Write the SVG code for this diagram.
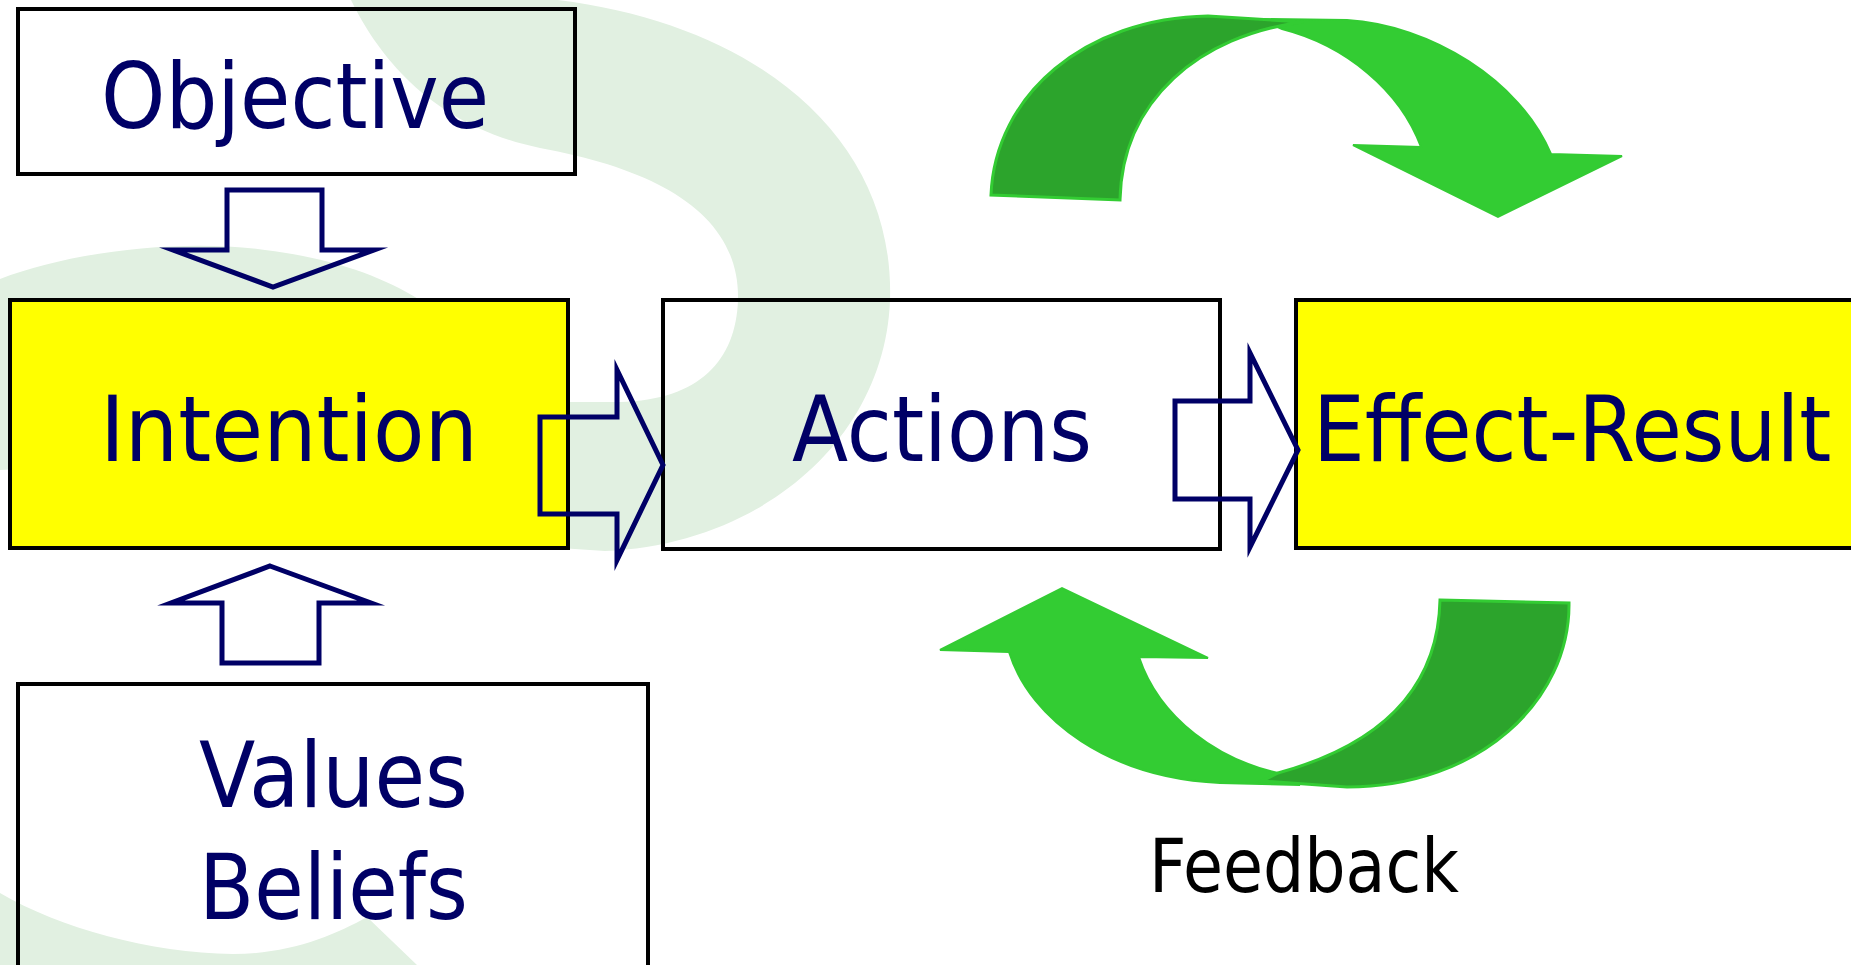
<svg xmlns="http://www.w3.org/2000/svg" width="1851" height="965" viewBox="0 0 1851 965">
<style>
.bg{fill:#E1F0E1;stroke:none}
.box{fill:none;stroke:#000;stroke-width:4}
.yel{fill:#FFFF00;stroke:#000;stroke-width:4}
.lbl{font-family:"DejaVu Sans","Liberation Sans",sans-serif;font-size:91px;fill:#000066}
.fb{font-family:"DejaVu Sans","Liberation Sans",sans-serif;font-size:75px;fill:#000}
.blk{fill:none;stroke:#000066;stroke-width:5;stroke-linejoin:miter;stroke-miterlimit:12}
.gl{fill:#33CC33;stroke:#33CC33;stroke-width:2}
.gd{fill:#2CA42C;stroke:#33CC33;stroke-width:3}
</style>
<rect width="1851" height="965" fill="#fff"/>
<g id="background">
<path class="bg" d="M351,0 C378,55 430,125 540,148 C660,170 740,215 738,300 C736,360 700,400 620,402 L520,402 L520,540 L560,548 L605,551 C760,545 885,440 890,300 C895,140 760,25 558,0 Z"/>
<path class="bg" d="M0,279 C70,252 180,238 265,250 C330,258 380,275 420,300 L420,450 L0,470 Z"/>
<path class="bg" d="M0,893 C60,928 150,953 233,954 C290,954 335,935 367,917 L417,965 L0,965 Z"/>
</g>
<g id="objective">
<rect class="box" x="18" y="9" width="557" height="165"/>
<text class="lbl" x="101" y="128" textLength="388" lengthAdjust="spacingAndGlyphs">Objective</text>
</g>
<g id="intention">
<rect class="yel" x="10" y="300" width="558" height="248"/>
<text class="lbl" x="100" y="461" textLength="378" lengthAdjust="spacingAndGlyphs">Intention</text>
</g>
<g id="actions">
<rect class="box" x="663" y="300" width="557" height="249"/>
<text class="lbl" x="792" y="461" textLength="300" lengthAdjust="spacingAndGlyphs">Actions</text>
</g>
<g id="effect-result">
<rect class="yel" x="1296" y="300" width="600" height="248"/>
<text class="lbl" transform="scale(0.9 1)" x="1459" y="461">Effect-Result</text>
</g>
<g id="values-beliefs">
<rect class="box" x="18" y="684" width="630" height="320"/>
<text class="lbl" x="199" y="807" textLength="269" lengthAdjust="spacingAndGlyphs">Values</text>
<text class="lbl" x="199" y="919" textLength="269" lengthAdjust="spacingAndGlyphs">Beliefs</text>
</g>
<g id="feedback">
<path class="gl" d="M1260,19 L1347,20 C1430,25 1520,80 1551,154 L1622,156 L1498,217 L1353,145 L1421,147 C1400,90 1345,45 1282,29 Z"/>
<path class="gd" d="M991,195 C995,95 1085,18 1208,16 L1303,22 C1200,35 1122,100 1120,200 Z"/>
<path class="gl" d="M1009,652 L940,650 L1062,588 L1208,658 L1139,657 C1160,720 1220,760 1278,773 L1300,785 L1220,783 C1110,778 1030,720 1009,652 Z"/>
<path class="gd" d="M1440,600 L1569,603 C1570,700 1480,787 1347,787 L1262,781 L1278,773 C1380,745 1438,690 1440,600 Z"/>
<text class="fb" x="1149" y="892" textLength="310" lengthAdjust="spacingAndGlyphs">Feedback</text>
</g>
<g id="connectors">
<path class="blk" d="M227,190 L322,190 L322,250 L374,250 L273,287 L173,250 L227,250 Z"/>
<path class="blk" d="M270,566 L371,603 L319,603 L319,663 L222,663 L222,603 L171,603 Z"/>
<path class="blk" d="M540,417 L617,417 L617,370 L663,465 L617,560 L617,514 L540,514 Z"/>
<path class="blk" d="M1175,401 L1250,401 L1250,353 L1298,450 L1250,547 L1250,499 L1175,499 Z"/>
</g>
</svg>
